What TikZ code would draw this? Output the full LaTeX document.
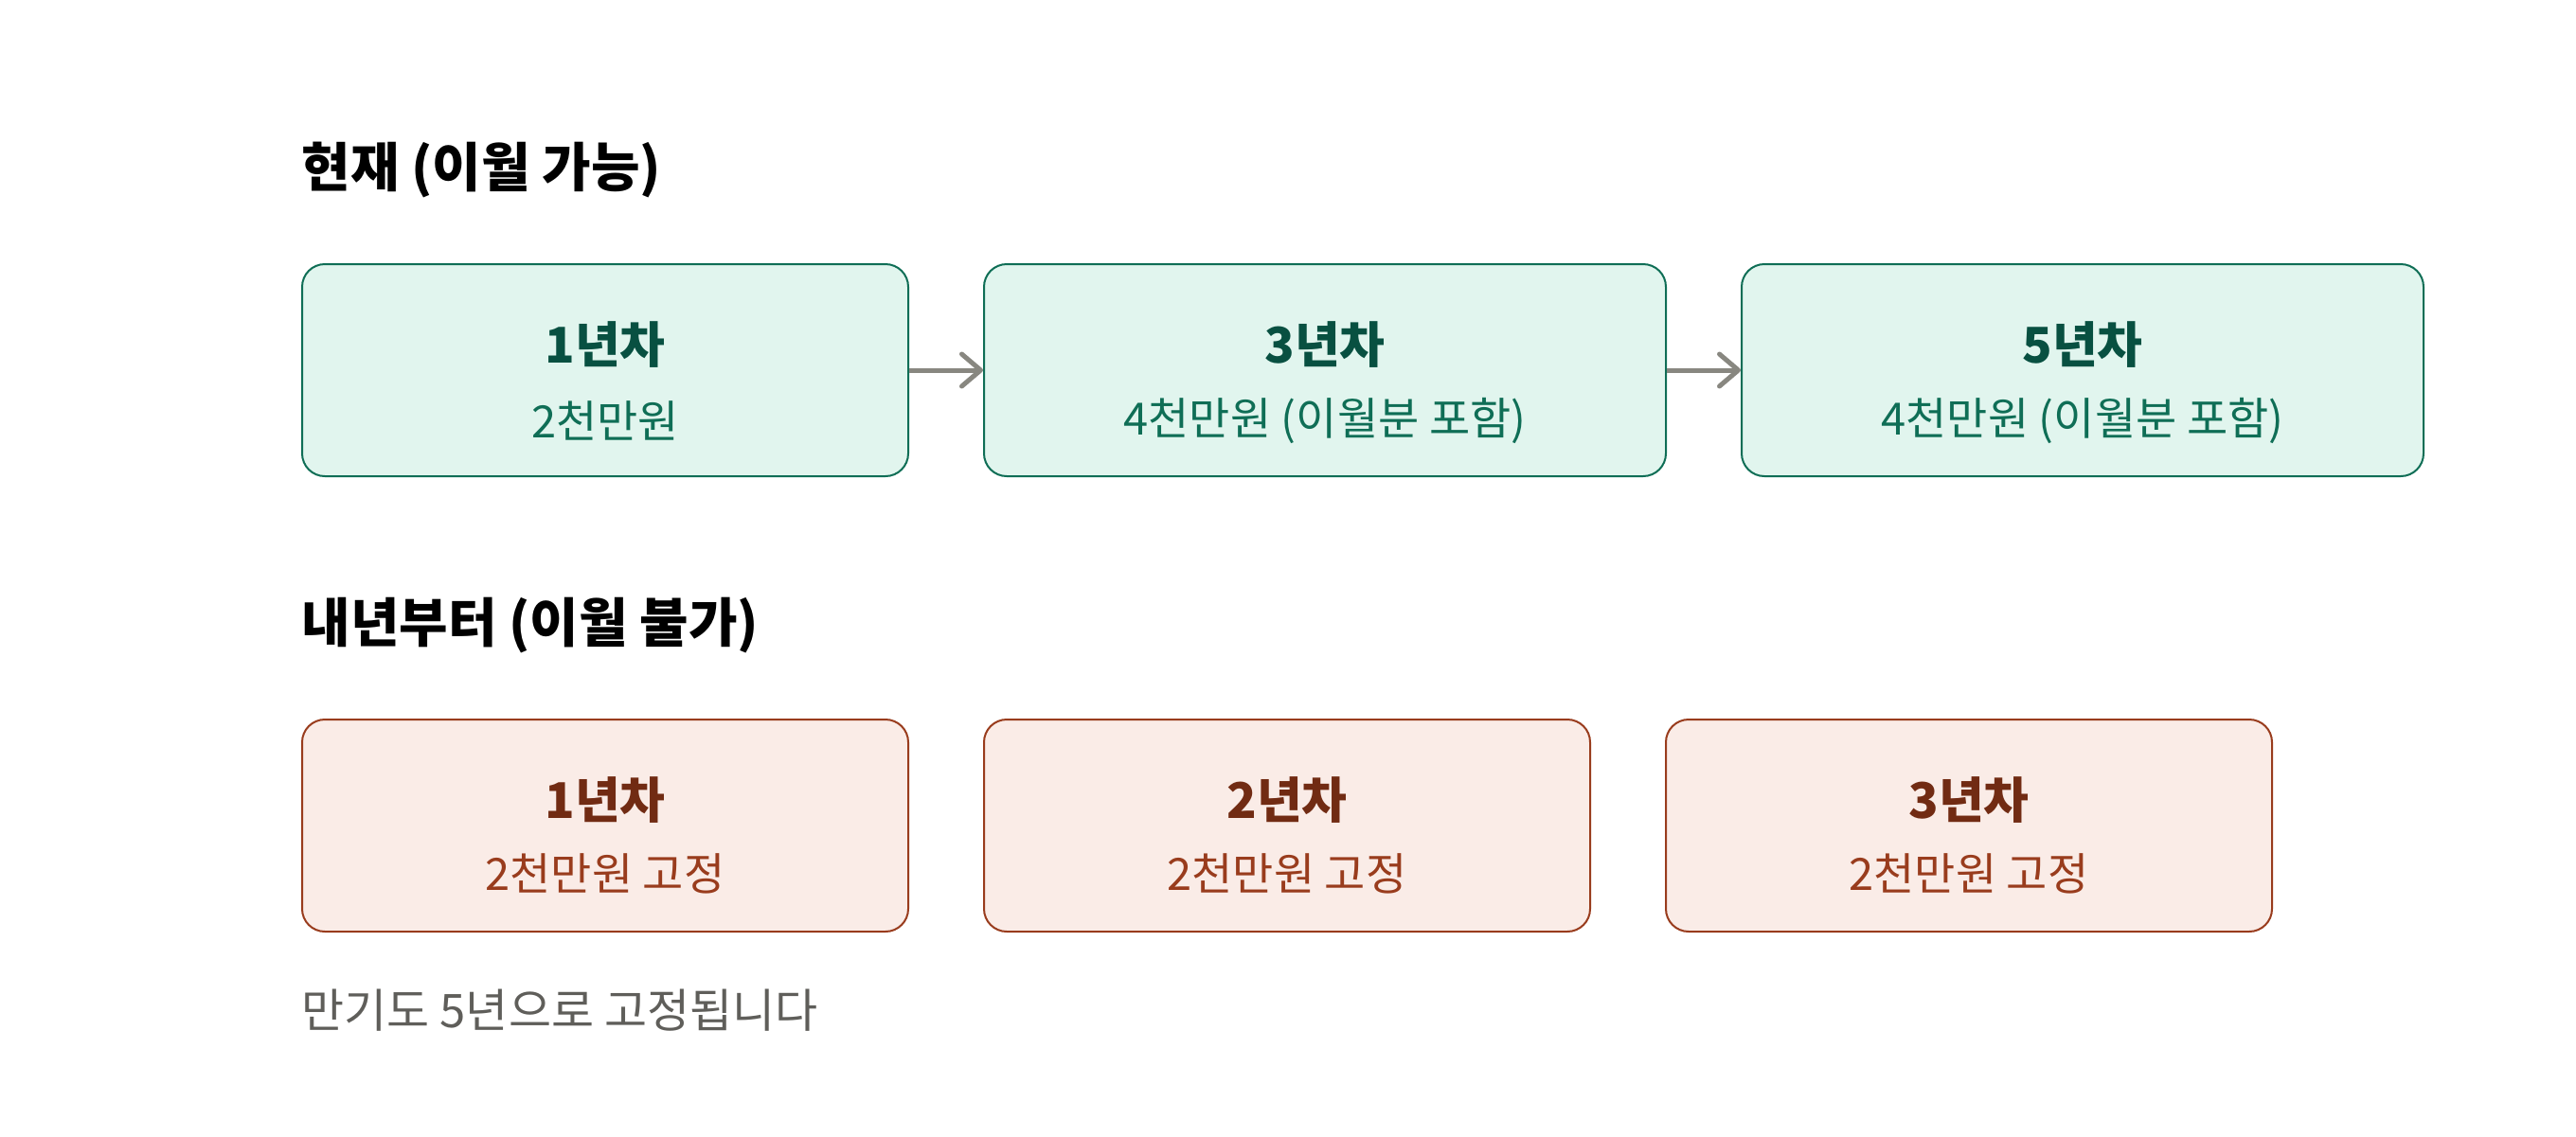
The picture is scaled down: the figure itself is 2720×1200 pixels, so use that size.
\documentclass[tikz,border=0pt]{standalone}
\usepackage{fontspec}
\setmainfont{Noto Sans CJK KR}
\usetikzlibrary{arrows.meta,positioning}

\definecolor{grnfill}{HTML}{E1F5EE}
\definecolor{grnline}{HTML}{0F6E56}
\definecolor{grnhead}{HTML}{085041}
\definecolor{redfill}{HTML}{FAECE7}
\definecolor{redline}{HTML}{993C1D}
\definecolor{redhead}{HTML}{712B13}
\definecolor{arrgray}{HTML}{888780}
\definecolor{notegray}{HTML}{5F5E5A}

\begin{document}
\begin{tikzpicture}[x=1pt,y=-1pt,
  sectitle/.style={anchor=west,text=black,font=\fontsize{56}{62}\selectfont\bfseries},
  okbox/.style={draw=grnline,fill=grnfill,line width=2pt,rounded corners=24pt,minimum height=224pt},
  nobox/.style={draw=redline,fill=redfill,line width=2pt,rounded corners=24pt,minimum height=224pt},
  okhead/.style={text=grnhead,font=\fontsize{52}{60}\selectfont\bfseries},
  oksub/.style={text=grnline,font=\fontsize{47}{54}\selectfont},
  nohead/.style={text=redhead,font=\fontsize{52}{60}\selectfont\bfseries},
  nosub/.style={text=redline,font=\fontsize{47}{54}\selectfont},
  flow/.style={draw=arrgray,line width=5pt,-{Straight Barb[length=20pt,width=34pt,line cap=round,round]}}]
\useasboundingbox (0,0) rectangle (2720,1200);

% current plan
\node[sectitle] (t1) at (315,180) {현재 (이월 가능)};
\node[okbox,minimum width=640pt] (a1) at (639,391) {};
\node[okbox,minimum width=720pt] (a2) at (1399,391) {};
\node[okbox,minimum width=720pt] (a3) at (2199,391) {};
\node[okhead] (a1h) at (639,364) {1년차};
\node[oksub] (a1s) at (639,444) {2천만원};
\node[okhead] (a2h) at (1399,364) {3년차};
\node[oksub] (a2s) at (1399,444) {4천만원 (이월분 포함)};
\node[okhead] (a3h) at (2199,364) {5년차};
\node[oksub] (a3s) at (2199,444) {4천만원 (이월분 포함)};
\draw[flow] (a1.east) -- (a2.west);
\draw[flow] (a2.east) -- (a3.west);

% from next year
\node[sectitle] (t2) at (315,661) {내년부터 (이월 불가)};
\node[nobox,minimum width=640pt] (b1) at (639,872) {};
\node[nobox,minimum width=640pt] (b2) at (1359,872) {};
\node[nobox,minimum width=640pt] (b3) at (2079,872) {};
\node[nohead] (b1h) at (639,845) {1년차};
\node[nosub] (b1s) at (639,923) {2천만원 고정};
\node[nohead] (b2h) at (1359,845) {2년차};
\node[nosub] (b2s) at (1359,923) {2천만원 고정};
\node[nohead] (b3h) at (2079,845) {3년차};
\node[nosub] (b3s) at (2079,923) {2천만원 고정};

\node[anchor=west,text=notegray,font=\fontsize{49}{56}\selectfont] (note) at (315,1067) {만기도 5년으로 고정됩니다};
\end{tikzpicture}
\end{document}
